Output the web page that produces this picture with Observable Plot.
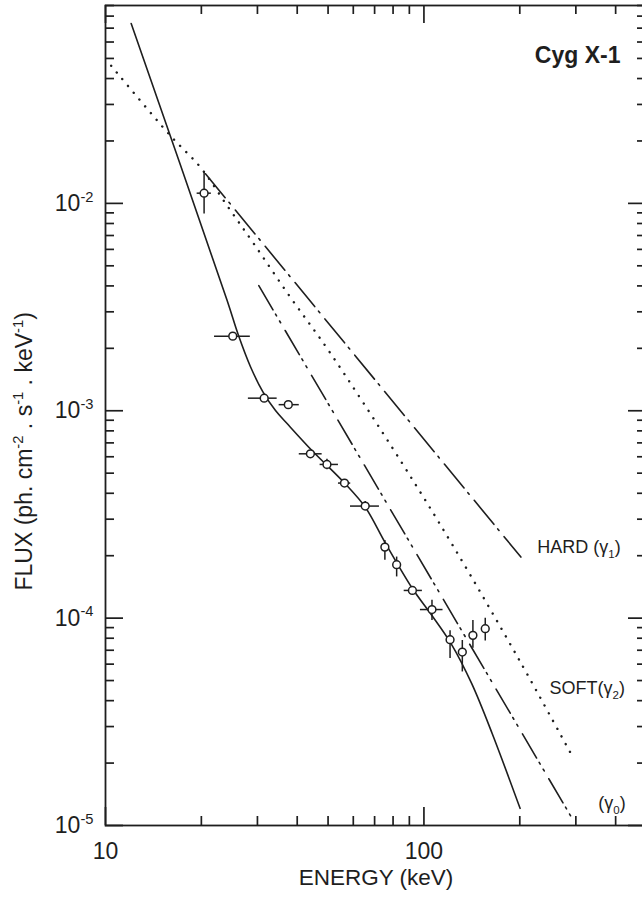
<!DOCTYPE html>
<html><head><meta charset="utf-8">
<script src="https://cdn.jsdelivr.net/npm/d3@7"></script>
<script src="https://cdn.jsdelivr.net/npm/@observablehq/plot@0.6"></script>
<style>
html,body{margin:0;padding:0;background:#fff;overflow:hidden;}
#chart svg{display:block;overflow:hidden;}
</style></head><body><div id="chart"></div>
<script>
// ---- measured data points (Cyg X-1) ----
const energy   = [20.4, 25.1, 31.5, 37.5, 44.0, 49.6, 56.3, 65.4, 75.4, 82.1, 92.0, 106.0, 120.8, 132.0, 142.5, 155.8];
const flux     = [0.0112, 0.00229, 0.00115, 0.00107, 0.00062, 0.000551, 0.000448, 0.000347, 0.00022, 0.000181, 0.000136, 0.000110, 0.0000787, 0.0000686, 0.0000826, 0.0000889];
const energyLo = [19.4, 22.0, 28.1, 35.1, 40.6, 47.2, 53.9, 58.8, 75.4, 82.1, 86.7, 97.5, 120.8, 132.0, 142.5, 155.8];
const energyHi = [21.5, 28.5, 34.6, 40.6, 47.9, 53.9, 58.9, 72.5, 75.4, 82.1, 98.9, 114.8, 120.8, 132.0, 142.5, 155.8];
const fluxLo   = [0.0089, 0.00229, 0.00115, 0.00107, 0.00062, 0.00052, 0.000448, 0.00033, 0.00019, 0.000158, 0.000136, 0.0000975, 0.0000638, 0.000055, 0.0000715, 0.0000776];
const fluxHi   = [0.0141, 0.00229, 0.00115, 0.00107, 0.00062, 0.000583, 0.000448, 0.000365, 0.000237, 0.000197, 0.000136, 0.000122, 0.000087, 0.000078, 0.0000975, 0.0001];

// ---- model curves ----
const modelE = [12.04, 24.1, 26.1, 28.53, 31.18, 34.19, 37.24, 44.5, 56.4, 65.4, 75.8, 92.0, 105.0, 121.8, 141.3, 163.9, 200.4];
const modelF = [0.0737, 0.0034, 0.00233, 0.00163, 0.001238, 0.001002, 0.000865, 0.000643, 0.000447, 0.000343, 0.000229, 0.000139, 0.000105, 0.0000752, 0.0000483, 0.0000277, 0.0000121];
const softE = [10.42, 15.99, 19.88, 24.1, 29.22, 38.1, 50.2, 84.4, 124.1, 200.9, 295.3];
const softF = [0.0461, 0.0212, 0.01491, 0.00975, 0.00639, 0.00352, 0.00195, 0.000575, 0.00022, 0.0000614, 0.000021];
const hardE = [20.6, 201.6];
const hardF = [0.0139, 0.000197];
const gamma0E = [30.3, 296.5];
const gamma0F = [0.00401, 0.0000104];

// ---- annotations ----
const lineLabelText = ["HARD (γ_{1})", "SOFT(γ_{2})", "(γ_{0})"];
const lineLabelE = [227, 248, 353];
const lineLabelF = [0.000219, 0.0000458, 0.0000128];
const sourceName = "Cyg X-1";
const xTitle = "ENERGY (keV)";
const yTitle = "FLUX (ph. cm^{-2} . s^{-1} . keV^{-1})";

// ---- ticks ----
const xMajor = [10, 100];
const xMinor = [20, 30, 40, 50, 60, 70, 80, 90, 200, 300, 400];
const xLabels = [10, 100];
const yMajor = [1e-2, 1e-3, 1e-4, 1e-5];
const yMinor = [];
for (const d of [1e-5, 1e-4, 1e-3, 1e-2]) for (let k = 2; k <= 9; k++) yMinor.push(+(k * d).toPrecision(3));

const ink = "#1e1e1e";
const font = "'Liberation Sans', Arial, Helvetica, sans-serif";

const points = energy.map((e, i) => ({e, f: flux[i], eLo: energyLo[i], eHi: energyHi[i], fLo: fluxLo[i], fHi: fluxHi[i]}));
const model = modelE.map((e, i) => ({e, f: modelF[i]}));
const soft = softE.map((e, i) => ({e, f: softF[i]}));
const hard = hardE.map((e, i) => ({e, f: hardF[i]}));
const gamma0 = gamma0E.map((e, i) => ({e, f: gamma0F[i]}));
const lineLabels = lineLabelText.map((t, i) => ({t, e: lineLabelE[i], f: lineLabelF[i]}));

// frame geometry (px)
const W = 642, H = 900, mT = 5, mB = 75, mL = 105, mR = -4;
const frameW = W - mL - mR, frameH = H - mT - mB;
const majorLen = 18, minorLen = 9;
const tk = {stroke: ink, strokeWidth: 1.7};

const plot = Plot.plot({
  width: W, height: H,
  marginTop: mT, marginBottom: mB, marginLeft: mL, marginRight: mR,
  style: {fontFamily: font, color: ink, background: "#fff", overflow: "hidden"},
  x: {type: "log", domain: [10, 500]},
  y: {type: "log", domain: [1e-5, 0.09]},
  marks: [
    // inward tick marks on all four sides
    Plot.ruleX(xMajor, {...tk, insetTop: frameH - majorLen}),
    Plot.ruleX(xMinor, {...tk, insetTop: frameH - minorLen}),
    Plot.ruleX(xMajor, {...tk, insetBottom: frameH - majorLen}),
    Plot.ruleX(xMinor, {...tk, insetBottom: frameH - minorLen}),
    Plot.ruleY(yMajor, {...tk, insetRight: frameW - majorLen}),
    Plot.ruleY(yMinor, {...tk, insetRight: frameW - minorLen}),
    Plot.ruleY(yMajor, {...tk, insetLeft: frameW - majorLen}),
    Plot.ruleY(yMinor, {...tk, insetLeft: frameW - minorLen}),
    // tick labels
    Plot.axisX(xLabels, {anchor: "bottom", tickSize: 0, tickPadding: 17, tickFormat: d => String(d), fontSize: 23, label: null, fill: ink}),
    Plot.axisY(yMajor, {anchor: "left", tickSize: 0, tickPadding: 12, tickFormat: d => `10^{${Math.round(Math.log10(d))}}`, fontSize: 23, label: null, fill: ink}),
    Plot.frame({stroke: ink, strokeWidth: 1.8}),
    // model curves
    Plot.line(model, {x: "e", y: "f", curve: "catmull-rom", stroke: ink, strokeWidth: 1.6}),
    Plot.line(soft, {x: "e", y: "f", curve: "catmull-rom", stroke: ink, strokeWidth: 2.4, strokeDasharray: "0.1 8.7", strokeLinecap: "round"}),
    Plot.line(hard, {x: "e", y: "f", stroke: ink, strokeWidth: 1.6, strokeDasharray: "31 6 2 8"}),
    Plot.line(gamma0, {x: "e", y: "f", stroke: ink, strokeWidth: 1.6, strokeDasharray: "28 5 2 6 2 9"}),
    // data with error bars
    Plot.ruleX(points, {x: "e", y1: "fLo", y2: "fHi", stroke: ink, strokeWidth: 1.5}),
    Plot.ruleY(points, {y: "f", x1: "eLo", x2: "eHi", stroke: ink, strokeWidth: 1.5}),
    Plot.dot(points, {x: "e", y: "f", r: 3.9, fill: "white", stroke: ink, strokeWidth: 1.5}),
    // annotations
    Plot.text(lineLabels, {x: "e", y: "f", text: "t", textAnchor: "start", fontSize: 18, fill: ink}),
    Plot.text([sourceName], {frameAnchor: "top-right", textAnchor: "end", dx: -26, dy: 41, fontSize: 23, fontWeight: "bold", fill: ink}),
    Plot.text([xTitle], {frameAnchor: "bottom", dy: 59, fontSize: 22.5, fill: ink}),
    Plot.text([yTitle], {frameAnchor: "left", rotate: -90, textAnchor: "start", dx: -81, dy: 175, fontSize: 23, fill: ink})
  ]
});

document.getElementById("chart").append(plot);

// turn ^{..} and _{..} markup into real super/subscript tspans
function richify(root) {
  root.querySelectorAll("text").forEach(t => {
    const s = t.textContent;
    if (!/[\^_]\{/.test(s)) return;
    const fs = parseFloat(getComputedStyle(t).fontSize) || 16;
    const parts = s.split(/([\^_]\{[^}]*\})/).filter(p => p !== "");
    t.textContent = "";
    let shift = 0;
    for (const p of parts) {
      const m = p.match(/^([\^_])\{([^}]*)\}$/);
      const ts = document.createElementNS("http://www.w3.org/2000/svg", "tspan");
      let target = 0;
      if (m) {
        target = m[1] === "^" ? -0.4 * fs : 0.25 * fs;
        ts.setAttribute("font-size", (0.64 * fs).toFixed(2));
        ts.textContent = m[2];
      } else {
        ts.textContent = p;
      }
      const d = target - shift;
      if (d) ts.setAttribute("dy", d.toFixed(2));
      shift = target;
      t.appendChild(ts);
    }
  });
}
richify(plot);
</script>
</body></html>
